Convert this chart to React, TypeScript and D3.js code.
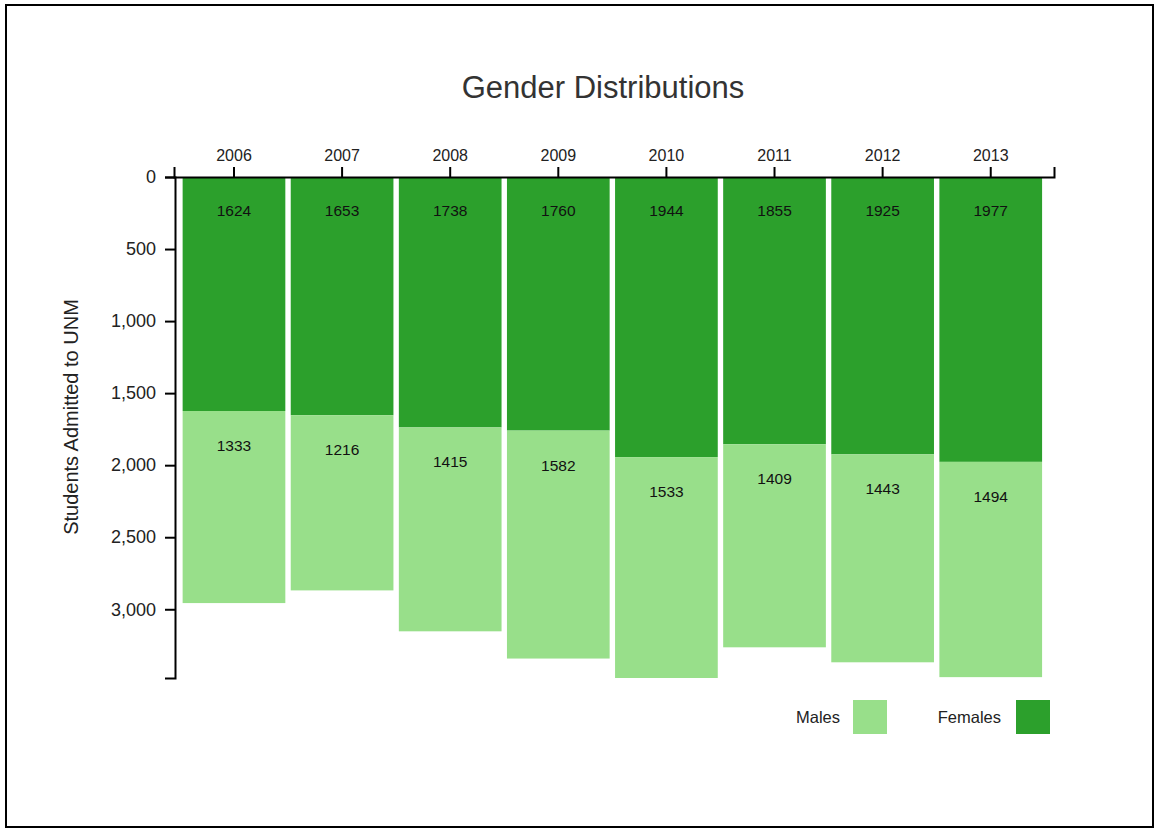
import React, { useEffect, useRef } from "react";
import * as d3 from "d3";

const years = ["2006", "2007", "2008", "2009", "2010", "2011", "2012", "2013"];
const females = [1624, 1653, 1738, 1760, 1944, 1855, 1925, 1977];
const males = [1333, 1216, 1415, 1582, 1533, 1409, 1443, 1494];
const seriesNames = ["Males", "Females"];
const yTicks = [0, 500, 1000, 1500, 2000, 2500, 3000];

const FEMALE_COLOR = "#2ca02c";
const MALE_COLOR = "#98df8a";
const FONT = "'Liberation Sans', Arial, sans-serif";

export default function App() {
  const ref = useRef<SVGSVGElement>(null);

  useEffect(() => {
    const svg = d3.select(ref.current);
    svg.selectAll("*").remove();

    const totals = years.map((_, i) => females[i] + males[i]);
    const x = d3.scaleBand<string>().domain(years).range([174, 1054])
      .paddingInner(0.05).paddingOuter(0.095).align(0.42);
    const y = d3.scaleLinear().domain([0, d3.max(totals) as number]).range([177, 678]);

    // frame
    svg.append("rect").attr("x", 6).attr("y", 5).attr("width", 1147).attr("height", 822)
      .attr("fill", "none").attr("stroke", "#000").attr("stroke-width", 2);

    // title
    svg.append("text").attr("x", 603).attr("y", 98).attr("text-anchor", "middle")
      .attr("font-family", FONT).attr("font-size", 31).attr("fill", "#333").text("Gender Distributions");

    // bars
    const g = svg.append("g");
    years.forEach((yr, i) => {
      const x0 = x(yr) as number;
      const bw = x.bandwidth();
      g.append("rect").attr("x", x0).attr("y", y(0)).attr("width", bw)
        .attr("height", y(females[i]) - y(0)).attr("fill", FEMALE_COLOR);
      g.append("rect").attr("x", x0).attr("y", y(females[i])).attr("width", bw)
        .attr("height", y(females[i] + males[i]) - y(females[i])).attr("fill", MALE_COLOR);
      g.append("text").attr("x", x0 + bw / 2).attr("y", y(0) + 39).attr("text-anchor", "middle")
        .attr("font-family", FONT).attr("font-size", 15.5).attr("fill", "#111").text(String(females[i]));
      g.append("text").attr("x", x0 + bw / 2).attr("y", y(females[i]) + 40).attr("text-anchor", "middle")
        .attr("font-family", FONT).attr("font-size", 15.5).attr("fill", "#111").text(String(males[i]));
    });

    // axes
    const xAxis = svg.append("g").attr("transform", `translate(0,${y(0)})`)
      .call(d3.axisTop(x).tickSize(10).tickPadding(6));
    const yAxis = svg.append("g").attr("transform", `translate(175,0)`)
      .call(d3.axisLeft(y).tickValues(yTicks).tickFormat(d3.format(",")).tickSize(10).tickPadding(9));
    [xAxis, yAxis].forEach((a) => {
      a.selectAll("path").attr("stroke", "#000").attr("stroke-width", 2);
      a.selectAll("line").attr("stroke", "#000").attr("stroke-width", 2);
      a.selectAll("text").attr("font-family", FONT).attr("fill", "#222");
    });
    xAxis.selectAll("text").attr("font-size", 16);
    yAxis.selectAll("text").attr("font-size", 18);

    // y label
    svg.append("text").attr("transform", `translate(78,417) rotate(-90)`)
      .attr("text-anchor", "middle").attr("font-family", FONT).attr("font-size", 20).attr("fill", "#222")
      .text("Students Admitted to UNM");

    // legend
    const legend = [
      { name: seriesNames[0], color: MALE_COLOR, textX: 840, boxX: 853 },
      { name: seriesNames[1], color: FEMALE_COLOR, textX: 1001, boxX: 1016 },
    ];
    legend.forEach((l) => {
      svg.append("text").attr("x", l.textX).attr("y", 723).attr("text-anchor", "end")
        .attr("font-family", FONT).attr("font-size", 16.5).attr("fill", "#222").text(l.name);
      svg.append("rect").attr("x", l.boxX).attr("y", 700).attr("width", 34).attr("height", 34).attr("fill", l.color);
    });
  }, []);

  return (
    <svg ref={ref} width={1156} height={830}
      style={{ position: "absolute", left: 0, top: 0, background: "#fff" }} />
  );
}
